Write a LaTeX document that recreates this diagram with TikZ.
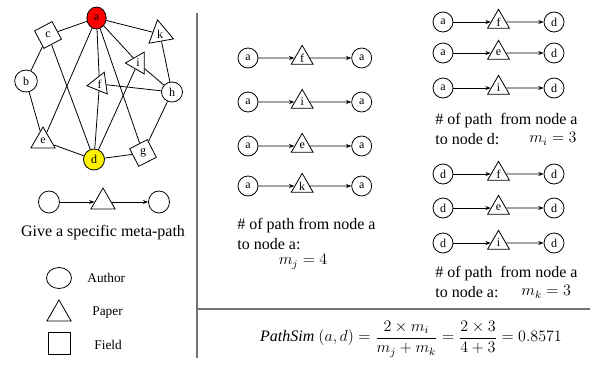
\documentclass[tikz,border=0pt]{standalone}
\usepackage{amsmath}
\usepackage{fontspec}
\setmainfont{Liberation Serif}
\usetikzlibrary{arrows.meta,positioning,shapes.geometric}

\begin{document}
\begin{tikzpicture}[
		x=0.75pt, y=-0.75pt,
		author/.style={ellipse, draw, fill=white, inner sep=0pt, minimum width=15pt, minimum height=15pt, font=\fontsize{9}{10}\selectfont},
		paper/.style={regular polygon, regular polygon sides=3, draw, fill=white, inner sep=0pt, minimum size=19pt, font=\fontsize{9}{10}\selectfont},
		field/.style={regular polygon, regular polygon sides=4, draw, fill=white, inner sep=0pt, minimum size=21pt, font=\fontsize{9}{10}\selectfont},
		txt/.style={inner sep=0pt, font=\fontsize{12}{14}\selectfont},
		legend/.style={inner sep=0pt, anchor=west, font=\fontsize{10}{12}\selectfont},
		arrow/.style={-{Stealth[length=4pt,width=3pt]}},
		divider/.style={draw=black!55, line width=1.3pt},
		line width=0.6pt
	]
	\useasboundingbox (0,0) rectangle (590,365);
	% Graph
	\node[author, fill=red, minimum width=14.5pt, minimum height=16.5pt] (a) at (96.5,18) {a};
	\node[author, minimum width=17pt, minimum height=16.5pt] (b) at (26,81) {b};
	\node[field, regular polygon rotate=28] (c) at (48,35) {c};
	\node[paper, minimum size=21.5pt, regular polygon rotate=10] (k) at (160,34) {k};
	\node[paper, regular polygon rotate=90] (i) at (138,63) {i};
	\node[paper, regular polygon rotate=98] (f) at (99.5,84) {f};
	\node[author, minimum width=15.75pt, minimum height=15pt] (h) at (172,92) {h};
	\node[paper, minimum size=21pt] (e) at (43,141) {e};
	\node[author, fill=yellow, minimum width=15.75pt, minimum height=15.75pt] (d) at (94,159.5) {d};
	\node[field, regular polygon rotate=27] (g) at (143,153) {g};
	% Edges
	\draw (a) -- (c) (a) -- (k) (a) -- (i) (a) -- (f) (a) -- (e) (a) -- (g);
	\draw (c) -- (b) (b) -- (e) (e) -- (d) (c) -- (d);
	\draw (d) -- (f) (d) -- (i) (d) -- (g);
	\draw (g) -- (h) (h) -- (k) (h) -- (i) (h) -- (f);
	% Meta-path
	\node[author, minimum width=15.75pt, minimum height=16.5pt] (ex1) at (49,202) {};
	\node[paper, minimum size=21pt] (ex2) at (103,202) {};
	\node[author, minimum width=15.75pt, minimum height=16.5pt] (ex3) at (159,202) {};
	\draw[arrow] (ex1) -- (ex2);
	\draw[arrow] (ex2) -- (ex3);
	\node[txt] (extext) at (103,233) {Give a specific meta-path};
	% Legend
	\node[author, minimum width=18.75pt, minimum height=15.75pt] (la) at (59,278) {};
	\node[legend] (lat) at (87,278) {Author};
	\node[paper, minimum size=21pt] (lp) at (59,314) {};
	\node[legend] (lpt) at (92,313) {Paper};
	\node[rectangle, draw, minimum size=16.5pt] (lf) at (59,343) {};
	\node[legend] (lft) at (94,345) {Field};
	% Dividers
	\draw[divider] (197,13) -- (197,358);
	\draw[divider] (197,309) -- (590,309);
	% Paths a to a
	\node[author] (jL1) at (248,58) {a};
	\node[paper, right=27pt of jL1] (jP1) {f};
	\node[author, right=31pt of jP1] (jR1) {a};
	\node[author] (jL2) at (248,102) {a};
	\node[paper, right=27pt of jL2] (jP2) {i};
	\node[author, right=31pt of jP2] (jR2) {a};
	\node[author] (jL3) at (248,146) {a};
	\node[paper, right=27pt of jL3] (jP3) {e};
	\node[author, right=31pt of jP3] (jR3) {a};
	\node[author] (jL4) at (248,186) {a};
	\node[paper, right=27pt of jL4] (jP4) {k};
	\node[author, right=31pt of jP4] (jR4) {a};
	\draw[arrow] (jL1) -- (jP1);
	\draw[arrow] (jP1) -- (jR1);
	\draw[arrow] (jL2) -- (jP2);
	\draw[arrow] (jP2) -- (jR2);
	\draw[arrow] (jL3) -- (jP3);
	\draw[arrow] (jP3) -- (jR3);
	\draw[arrow] (jL4) -- (jP4);
	\draw[arrow] (jP4) -- (jR4);
	\node[txt, anchor=west] (jq1) at (237,226) {\# of path from node a};
	\node[txt, anchor=west] (jq2) at (237,244) {to node a:};
	\node[txt] (mj) at (303,262) {$m_j = 4$};
	% Paths a to d
	\node[author] (iL1) at (443,22) {a};
	\node[paper, right=28pt of iL1] (iP1) {f};
	\node[author, right=28pt of iP1] (iR1) {d};
	\node[author] (iL2) at (443,53) {a};
	\node[paper, right=28pt of iL2] (iP2) {e};
	\node[author, right=28pt of iP2] (iR2) {d};
	\node[author] (iL3) at (443,88) {a};
	\node[paper, right=28pt of iL3] (iP3) {i};
	\node[author, right=28pt of iP3] (iR3) {d};
	\draw[arrow] (iL1) -- (iP1);
	\draw[arrow] (iP1) -- (iR1);
	\draw[arrow] (iL2) -- (iP2);
	\draw[arrow] (iP2) -- (iR2);
	\draw[arrow] (iL3) -- (iP3);
	\draw[arrow] (iP3) -- (iR3);
	\node[txt, anchor=west] (iq1) at (435,121) {\# of path\ \ from node a};
	\node[txt, anchor=west] (iq2) at (435,139) {to node d:};
	\node[txt, anchor=west] (mi) at (529,139) {$m_i = 3$};
	% Paths d to d
	\node[author] (kL1) at (443,174) {d};
	\node[paper, right=28pt of kL1] (kP1) {f};
	\node[author, right=28pt of kP1] (kR1) {d};
	\node[author] (kL2) at (443,208) {d};
	\node[paper, right=28pt of kL2] (kP2) {e};
	\node[author, right=28pt of kP2] (kR2) {d};
	\node[author] (kL3) at (443,243) {d};
	\node[paper, right=28pt of kL3] (kP3) {i};
	\node[author, right=28pt of kP3] (kR3) {d};
	\draw[arrow] (kL1) -- (kP1);
	\draw[arrow] (kP1) -- (kR1);
	\draw[arrow] (kL2) -- (kP2);
	\draw[arrow] (kP2) -- (kR2);
	\draw[arrow] (kL3) -- (kP3);
	\draw[arrow] (kP3) -- (kR3);
	\node[txt, anchor=west] (kq1) at (435,274) {\# of path\ \ from node a};
	\node[txt, anchor=west] (kq2) at (435,292) {to node a:};
	\node[txt, anchor=west] (mk) at (521,292) {$m_k = 3$};
	% Formula
	\node[txt] (sim) at (411,339) {$\mathit{PathSim}\ (a,d) = \dfrac{2\times m_i}{m_j+m_k} = \dfrac{2\times 3}{4+3} = 0.8571$};
\end{tikzpicture}
\end{document}
